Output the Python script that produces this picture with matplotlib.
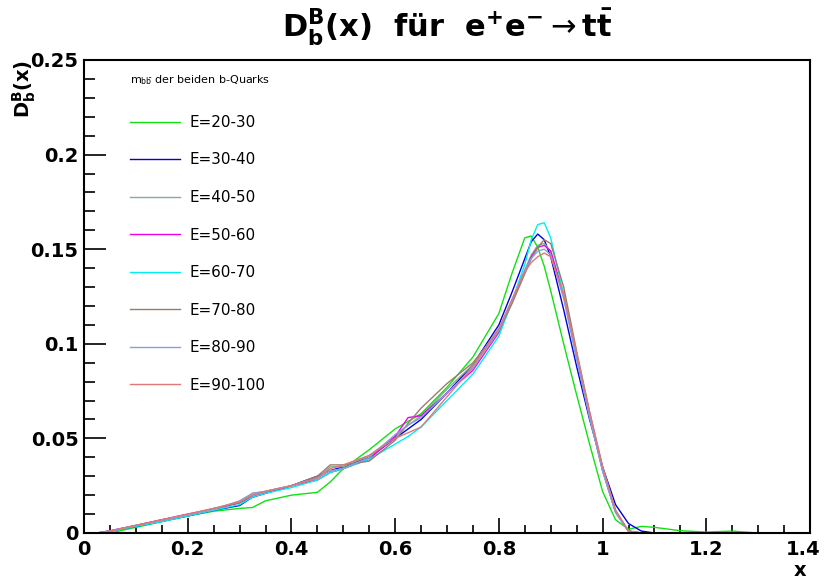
import matplotlib
matplotlib.use("Agg")
import matplotlib.pyplot as plt
import matplotlib.transforms as mtransforms
from matplotlib.ticker import MultipleLocator, FuncFormatter

plt.rcParams['font.family'] = ['DejaVu Sans']
plt.rcParams['mathtext.fontset'] = 'dejavusans'

# x grid (bin positions)
x = [0.025, 0.05, 0.1, 0.15, 0.2, 0.25, 0.3, 0.325, 0.35, 0.4, 0.45, 0.475, 0.5,
     0.55, 0.6, 0.625, 0.65, 0.7, 0.75, 0.8, 0.825, 0.85, 0.8625, 0.875, 0.8875, 0.9, 0.925,
     0.95, 0.975, 1.0, 1.025, 1.05, 1.075, 1.1, 1.15, 1.2, 1.25, 1.3, 1.375]

e20_30 = [0, 0, 0.003, 0.006, 0.009, 0.0115, 0.013, 0.0135, 0.017, 0.020, 0.0215, 0.027, 0.034,
          0.044, 0.055, 0.059, 0.063, 0.077, 0.093, 0.116, 0.137, 0.156, 0.157, 0.151, 0.141, 0.128, 0.100,
          0.073, 0.047, 0.022, 0.007, 0.002, 0.0035, 0.003, 0.0012, 0.0005, 0.001, 0, 0]
e30_40 = [0, 0.001, 0.0035, 0.0062, 0.009, 0.012, 0.0145, 0.019, 0.021, 0.025, 0.030, 0.033, 0.035,
          0.040, 0.050, 0.055, 0.060, 0.074, 0.089, 0.110, 0.127, 0.145, 0.154, 0.158, 0.155, 0.146, 0.118,
          0.088, 0.060, 0.035, 0.015, 0.005, 0.001, 0, 0, 0, 0, 0, 0]
e40_50 = [0, 0.001, 0.004, 0.007, 0.0095, 0.0125, 0.016, 0.021, 0.022, 0.025, 0.029, 0.035, 0.035,
          0.041, 0.051, 0.057, 0.062, 0.076, 0.089, 0.108, 0.123, 0.139, 0.147, 0.152, 0.153, 0.149, 0.125,
          0.093, 0.062, 0.033, 0.011, 0.001, 0, 0, 0, 0, 0, 0, 0]
e50_60 = [0, 0.0012, 0.004, 0.007, 0.010, 0.0125, 0.016, 0.019, 0.021, 0.025, 0.028, 0.032, 0.034,
          0.039, 0.051, 0.061, 0.062, 0.074, 0.086, 0.106, 0.122, 0.138, 0.146, 0.151, 0.152, 0.149, 0.126,
          0.093, 0.062, 0.033, 0.011, 0.001, 0, 0, 0, 0, 0, 0, 0]
e60_70 = [0, 0.0008, 0.0035, 0.006, 0.009, 0.012, 0.015, 0.019, 0.021, 0.024, 0.028, 0.032, 0.034,
          0.039, 0.047, 0.051, 0.056, 0.070, 0.084, 0.104, 0.122, 0.142, 0.155, 0.163, 0.164, 0.156, 0.126,
          0.093, 0.062, 0.033, 0.011, 0.001, 0, 0, 0, 0, 0, 0, 0]
e70_80 = [0, 0.001, 0.004, 0.0068, 0.0098, 0.013, 0.016, 0.020, 0.022, 0.025, 0.030, 0.036, 0.036,
          0.038, 0.049, 0.058, 0.066, 0.079, 0.090, 0.107, 0.121, 0.137, 0.145, 0.151, 0.155, 0.153, 0.130,
          0.096, 0.064, 0.035, 0.012, 0.001, 0, 0, 0, 0, 0, 0, 0]
e80_90 = [0, 0.001, 0.004, 0.0065, 0.0095, 0.0125, 0.017, 0.021, 0.022, 0.025, 0.029, 0.033, 0.034,
          0.040, 0.052, 0.057, 0.061, 0.074, 0.087, 0.107, 0.123, 0.139, 0.145, 0.149, 0.150, 0.147, 0.124,
          0.092, 0.061, 0.033, 0.011, 0.001, 0, 0, 0, 0, 0, 0, 0]
e90_100 = [0, 0.001, 0.004, 0.007, 0.010, 0.013, 0.0165, 0.020, 0.022, 0.025, 0.029, 0.034, 0.036,
           0.041, 0.050, 0.053, 0.056, 0.072, 0.088, 0.108, 0.123, 0.138, 0.143, 0.146, 0.148, 0.146, 0.126,
           0.095, 0.064, 0.035, 0.012, 0.001, 0, 0, 0, 0, 0, 0, 0]

labels = ["E=20-30", "E=30-40", "E=40-50", "E=50-60",
          "E=60-70", "E=70-80", "E=80-90", "E=90-100"]
series = [e20_30, e30_40, e40_50, e50_60, e60_70, e70_80, e80_90, e90_100]
colors = ['#11e011', '#0000dd', '#80b090', '#ee00ee',
          '#00eeee', '#9c7b6e', '#88a0d8', '#e07878']

fig = plt.figure(figsize=(8.25, 5.79), dpi=100)
ax = fig.add_axes([84/825, 1 - 533/579, 726/825, 473/579])

for ys, lab, c in zip(series, labels, colors):
    ax.plot(x, ys, color=c, lw=1.0, label=lab)

ax.set_xlim(0, 1.4)
ax.set_ylim(0, 0.25)
ax.xaxis.set_major_locator(MultipleLocator(0.2))
ax.xaxis.set_minor_locator(MultipleLocator(0.05))
ax.yaxis.set_major_locator(MultipleLocator(0.05))
ax.yaxis.set_minor_locator(MultipleLocator(0.01))
fmt = FuncFormatter(lambda v, p: f"{round(v, 3):g}")
ax.xaxis.set_major_formatter(fmt)
ax.yaxis.set_major_formatter(fmt)
ax.tick_params(which='both', direction='in', top=False, right=False, width=1.2)
ax.tick_params(axis='x', which='major', length=11, pad=5)
ax.tick_params(axis='x', which='minor', length=5.5)
ax.tick_params(axis='y', which='major', length=16, pad=4)
ax.tick_params(axis='y', which='minor', length=8)
for lab in ax.get_xticklabels() + ax.get_yticklabels():
    lab.set_fontsize(14)
    lab.set_fontweight('bold')
for sp in ax.spines.values():
    sp.set_linewidth(1.5)

# keep the last x label inside the canvas
fig.canvas.draw()
last = [t for t in ax.get_xticklabels() if t.get_text() == "1.4"]
for t in last:
    t.set_transform(t.get_transform() + mtransforms.ScaledTranslation(-5/72, 0, fig.dpi_scale_trans))

ax.text(0.063, 0.958, r"m$_{\mathregular{b\bar{b}}}$ der beiden b-Quarks",
        transform=ax.transAxes, ha='left', va='center', fontsize=8)
leg = ax.legend(loc='upper left', bbox_to_anchor=(0.063, 0.884), frameon=False,
                fontsize=10.9, handlelength=3.3, handletextpad=0.65,
                labelspacing=1.49, borderpad=0, borderaxespad=0)

fig.text(447/825, 1 - 38/579,
         r"$\mathbf{D_b^B(x)}$  für  $\mathbf{e^{+}e^{-}}$$\rightarrow$$\mathbf{t\bar{t}}$",
         ha='center', va='baseline', fontsize=22, fontweight='bold')
fig.text(24/825, 1 - 60/579, r"$\mathbf{D_b^B(x)}$", rotation=90,
         ha='center', va='top', fontsize=14, fontweight='bold')
fig.text(800/825, 1 - 571/579, "x", ha='center', va='center',
         fontsize=14, fontweight='bold')

fig.savefig("out.png", dpi=100)
